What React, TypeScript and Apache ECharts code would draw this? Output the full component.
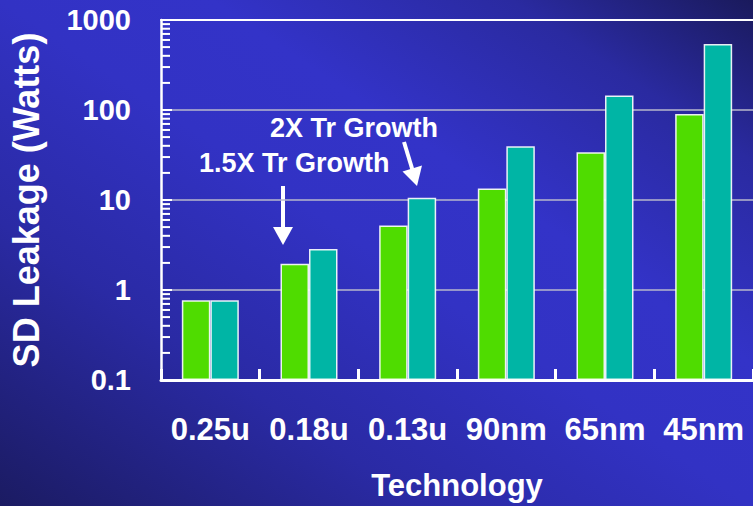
import React, { useEffect, useRef } from "react";
import * as echarts from "echarts";

// Process nodes along the x axis
const technologies = ["0.25u", "0.18u", "0.13u", "90nm", "65nm", "45nm"];

// Source-drain leakage in watts for the two transistor-count growth scenarios
const leakage15x = [0.77, 1.96, 5.2, 13.4, 34, 90];
const leakage2x = [0.77, 2.85, 10.6, 39.5, 145, 540];

// Log axis range and the intermediate (minor) tick values per decade
const yMin = 0.1;
const yMax = 1000;
const minorTickValues = [
  0.2, 0.3, 0.4, 0.5, 0.6, 0.7, 0.8, 0.9,
  2, 3, 4, 5, 6, 7, 8, 9,
  20, 30, 40, 50, 60, 70, 80, 90,
  200, 300, 400, 500, 600, 700, 800, 900,
];

const FONT = '"Liberation Sans", Arial, Helvetica, sans-serif';

export default function App() {
  const ref = useRef<HTMLDivElement>(null);

  useEffect(() => {
    if (!ref.current) return;
    const chart = echarts.init(ref.current, null, { renderer: "svg" });

    chart.setOption({
      animation: false,
      backgroundColor: "transparent",
      textStyle: { fontFamily: FONT },
      grid: { left: 160, right: -4, top: 20, bottom: 124, containLabel: false },
      xAxis: [
        {
          type: "category",
          data: technologies,
          position: "bottom",
          axisLine: { lineStyle: { color: "#ffffff", width: 3 } },
          axisTick: {
            show: true,
            inside: true,
            length: 11,
            alignWithLabel: false,
            interval: 0,
            lineStyle: { color: "#ffffff", width: 3 },
          },
          axisLabel: {
            interval: 0,
            margin: 34,
            color: "#ffffff",
            fontSize: 31,
            fontWeight: "bold",
            fontFamily: FONT,
          },
          name: "Technology",
          nameLocation: "middle",
          nameGap: 90,
          nameTextStyle: {
            color: "#ffffff",
            fontSize: 31,
            fontWeight: "bold",
            fontFamily: FONT,
          },
          splitLine: { show: false },
        },
        {
          // top border of the plot
          type: "category",
          data: technologies,
          position: "top",
          axisLine: { lineStyle: { color: "#ffffff", width: 2 } },
          axisTick: { show: false },
          axisLabel: { show: false },
          splitLine: { show: false },
          z: 5,
        },
      ],
      yAxis: {
        type: "log",
        logBase: 10,
        min: yMin,
        max: yMax,
        startValue: yMin,
        splitNumber: 4,
        axisLine: { show: true, lineStyle: { color: "#ffffff", width: 2.5 } },
        axisTick: {
          show: true,
          inside: true,
          length: 11,
          lineStyle: { color: "#ffffff", width: 2 },
        },
        axisLabel: {
          margin: 30,
          color: "#ffffff",
          fontSize: 29,
          fontWeight: "bold",
          fontFamily: FONT,
          formatter: (v: number) => String(v),
        },
        splitLine: { show: true, lineStyle: { color: "#b8b8cc", width: 1.5 } },
        name: "SD Leakage (Watts)",
        nameLocation: "middle",
        nameRotate: 90,
        nameGap: 117,
        nameTextStyle: {
          color: "#ffffff",
          fontSize: 36,
          fontWeight: "bold",
          fontFamily: FONT,
        },
      },
      series: [
        {
          name: "1.5X growth",
          type: "bar",
          data: leakage15x,
          barWidth: 28.5,
          barGap: "0%",
          itemStyle: {
            color: "#4fdc00",
            borderColor: "rgba(255,255,255,0.9)",
            borderWidth: 1.5,
          },
        },
        {
          name: "2X growth",
          type: "bar",
          data: leakage2x,
          barWidth: 28.5,
          barGap: "0%",
          itemStyle: {
            color: "#00b5a5",
            borderColor: "rgba(255,255,255,0.9)",
            borderWidth: 1.5,
          },
        },
        {
          // minor log ticks on the inside of the value axis
          type: "custom",
          silent: true,
          clip: false,
          z: 4,
          data: minorTickValues.map((v) => [0, v]),
          encode: { x: 0, y: 1 },
          renderItem: (params: any, api: any) => {
            const cs = params.coordSys;
            const y = api.coord([0, api.value(1)])[1];
            return {
              type: "line",
              shape: { x1: cs.x, y1: y, x2: cs.x + 9, y2: y },
              style: { stroke: "#ffffff", lineWidth: 2 },
            };
          },
        },
      ],
      graphic: [
        {
          type: "text",
          x: 270,
          y: 127.5,
          style: {
            text: "2X Tr Growth",
            fill: "#ffffff",
            fontSize: 27,
            fontWeight: "bold",
            fontFamily: FONT,
            align: "left",
            verticalAlign: "middle",
          },
        },
        {
          type: "text",
          x: 199,
          y: 162.5,
          style: {
            text: "1.5X Tr Growth",
            fill: "#ffffff",
            fontSize: 27,
            fontWeight: "bold",
            fontFamily: FONT,
            align: "left",
            verticalAlign: "middle",
          },
        },
        {
          type: "line",
          shape: { x1: 283, y1: 186, x2: 283, y2: 229 },
          style: { stroke: "#ffffff", lineWidth: 4 },
        },
        {
          type: "polygon",
          shape: { points: [[273, 227], [293, 227], [283, 245]] },
          style: { fill: "#ffffff" },
        },
        {
          type: "line",
          shape: { x1: 404, y1: 142, x2: 412.5, y2: 170 },
          style: { stroke: "#ffffff", lineWidth: 4 },
        },
        {
          type: "polygon",
          shape: { points: [[402.5, 171.5], [422, 165.5], [417, 186]] },
          style: { fill: "#ffffff" },
        },
      ],
    });

    return () => chart.dispose();
  }, []);

  return (
    <div
      ref={ref}
      style={{
        position: "fixed",
        left: 0,
        top: 0,
        width: 753,
        height: 506,
        background:
          "linear-gradient(to top right, #1b1b62 0%, #2a2aa4 28%, #3232c4 50%, #3333c8 64%, #2a2aa0 84%, #1a1a5c 100%)",
      }}
    />
  );
}
